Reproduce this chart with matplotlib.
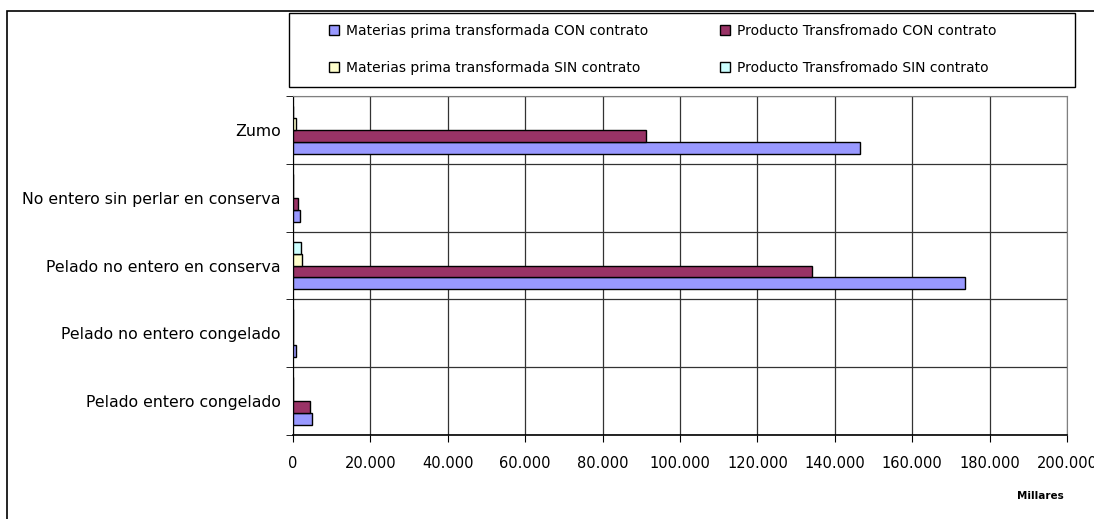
import matplotlib.pyplot as plt
import numpy as np
from matplotlib.patches import Rectangle
from matplotlib.ticker import FuncFormatter

categories = ['Pelado entero congelado', 'Pelado no entero congelado',
              'Pelado no entero en conserva', 'No entero sin perlar en conserva', 'Zumo']
series_names = ['Materias prima transformada CON contrato',
                'Producto Transfromado CON contrato',
                'Materias prima transformada SIN contrato',
                'Producto Transfromado SIN contrato']
mp_con = [5000, 700, 173600, 1700, 146500]
pt_con = [4300, 0, 134000, 1400, 91200]
mp_sin = [0, 0, 2300, 0, 700]
pt_sin = [0, 0, 2000, 0, 0]
colors = ['#9999FF', '#993366', '#FFFFCC', '#CCFFFF']
x_ticks = [0, 20000, 40000, 60000, 80000, 100000, 120000, 140000, 160000, 180000, 200000]

plt.rcParams['font.family'] = ['DejaVu Sans']

fig = plt.figure(figsize=(10.94, 5.19), dpi=100)
ax = fig.add_axes([293/1094, 1 - 435/519, 774/1094, 339/519])

y = np.arange(len(categories))
h = 12/68
data = [mp_con, pt_con, mp_sin, pt_sin]
bars = []
for i, (vals, col) in enumerate(zip(data, colors)):
    b = ax.barh(y + (i - 1.5) * h, vals, height=h, color=col,
                edgecolor='black', linewidth=1.0, label=series_names[i], zorder=3)
    bars.append(b)

ax.set_xlim(0, 200000)
ax.set_ylim(-0.5, len(categories) - 0.5)
ax.set_xticks(x_ticks)
ax.xaxis.set_major_formatter(FuncFormatter(lambda v, p: '0' if v == 0 else f'{int(v):,}'.replace(',', '.')))
ax.set_yticks(y)
ax.set_yticklabels(categories, fontsize=11.3)
ax.set_yticks(np.arange(-0.5, len(categories), 1), minor=True)
ax.tick_params(axis='y', which='major', length=0, pad=9)
ax.tick_params(axis='y', which='minor', length=5, direction='out', color='black')
ax.tick_params(axis='x', length=5, direction='out', labelsize=10.5, pad=10)
ax.grid(axis='x', which='major', color='#333333', linewidth=0.9, zorder=0)
ax.grid(axis='y', which='minor', color='#333333', linewidth=0.9, zorder=0)
for side in ['top', 'right']:
    ax.spines[side].set_color('#808080')
ax.spines['left'].set_color('black')
ax.spines['bottom'].set_color('black')
ax.spines['bottom'].set_linewidth(1.2)

fig.text(1040/1094, 1 - 496/519, 'Millares', fontsize=7.5, fontweight='bold', ha='center', va='center')

handles = [bars[0], bars[2], bars[1], bars[3]]
labels = [series_names[0], series_names[2], series_names[1], series_names[3]]
leg = fig.legend(handles, labels, ncol=2, loc='center left',
                 bbox_to_anchor=(329/1094, 1 - 49.5/519),
                 fontsize=10, frameon=False,
                 handlelength=0.7, handleheight=0.7, handletextpad=0.5,
                 borderaxespad=0, labelspacing=1.65, borderpad=0, columnspacing=5.2)

fig.patches.append(Rectangle((289/1094, 1 - 87/519), 786/1094, 74/519, transform=fig.transFigure,
                             fill=False, edgecolor='black', linewidth=1.0, zorder=0))
fig.patches.append(Rectangle((7/1094, -0.1), 1.2, 1 - 11/519 + 0.1, transform=fig.transFigure,
                             fill=False, edgecolor='black', linewidth=1.2, zorder=0))

fig.savefig('out.png', dpi=100)
